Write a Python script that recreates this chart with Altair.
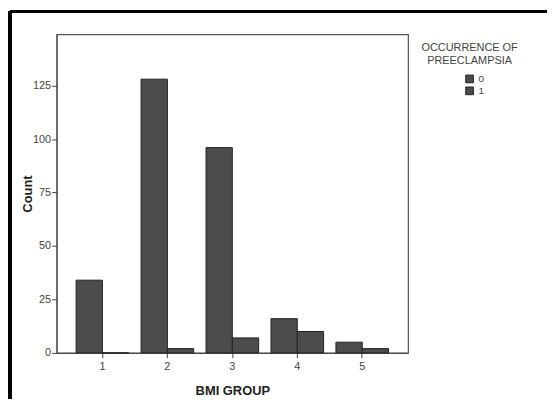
import altair as alt
import pandas as pd

groups = ["1", "2", "3", "4", "5"]
count_0 = [34, 128, 96, 16, 5]
count_1 = [0, 2, 7, 10, 2]
y_ticks = [0, 25, 50, 75, 100, 125]

rows = []
for g, a, b in zip(groups, count_0, count_1):
    rows.append({"BMI GROUP": g, "PE": "0", "Count": a})
    rows.append({"BMI GROUP": g, "PE": "1", "Count": b})
df = pd.DataFrame(rows)

FONT = "Liberation Sans"

bars = alt.Chart(df).mark_bar(stroke="#222222", strokeWidth=1, fillOpacity=1).encode(
    x=alt.X("BMI GROUP:N", sort=groups,
            scale=alt.Scale(paddingInner=0.19, paddingOuter=0.30),
            axis=alt.Axis(title="BMI GROUP", labelAngle=0, tickSize=5, labelPadding=3,
                          titlePadding=13)),
    xOffset=alt.XOffset("PE:N", scale=alt.Scale(paddingInner=0, paddingOuter=0)),
    y=alt.Y("Count:Q", scale=alt.Scale(domain=[0, 149], nice=False, zero=True),
            axis=alt.Axis(title="Count", values=y_ticks, tickSize=5, labelPadding=1,
                          titlePadding=-2)),
    color=alt.Color("PE:N",
                    scale=alt.Scale(domain=["0", "1"], range=["#4c4c4c", "#4c4c4c"]),
                    legend=alt.Legend(title=["OCCURRENCE  OF", "PREECLAMPSIA"],
                                      orient="none", legendX=366, legendY=8,
                                      symbolType="square", symbolSize=60,
                                      symbolStrokeColor="#222222", symbolStrokeWidth=1,
                                      symbolOffset=-5, rowPadding=0,
                                      titleAlign="center", titleAnchor="start",
                                      titleFontSize=11, titleFontWeight="normal",
                                      titleColor="#444444", titleFont=FONT,
                                      labelFontSize=10, labelColor="#444444",
                                      labelFont=FONT, titlePadding=8)),
)

frame_top = alt.Chart(df).mark_rule(color="black", strokeWidth=3, clip=False).encode(
    x=alt.value(-47), x2=alt.value(700), y=alt.value(-23)
)
frame_left = alt.Chart(df).mark_rule(color="black", strokeWidth=3, clip=False).encode(
    x=alt.value(-47), y=alt.value(-23), y2=alt.value(500)
)

chart = alt.layer(bars, frame_top, frame_left).properties(
    width=354, height=321,
    autosize=alt.AutoSizeParams(type="none"),
    padding={"left": 49, "top": 25, "right": 140, "bottom": 45},
    background="white",
).configure_view(
    stroke="#555555", strokeWidth=1.2
).configure_axis(
    domainColor="#444444", tickColor="#444444", labelColor="#444444",
    labelFont=FONT, labelFontSize=11, titleFont=FONT, titleFontSize=13,
    titleFontWeight="bold", titleColor="#222222", grid=False,
)

chart.save("out.html", embed_options={"renderer": "svg", "actions": False})
